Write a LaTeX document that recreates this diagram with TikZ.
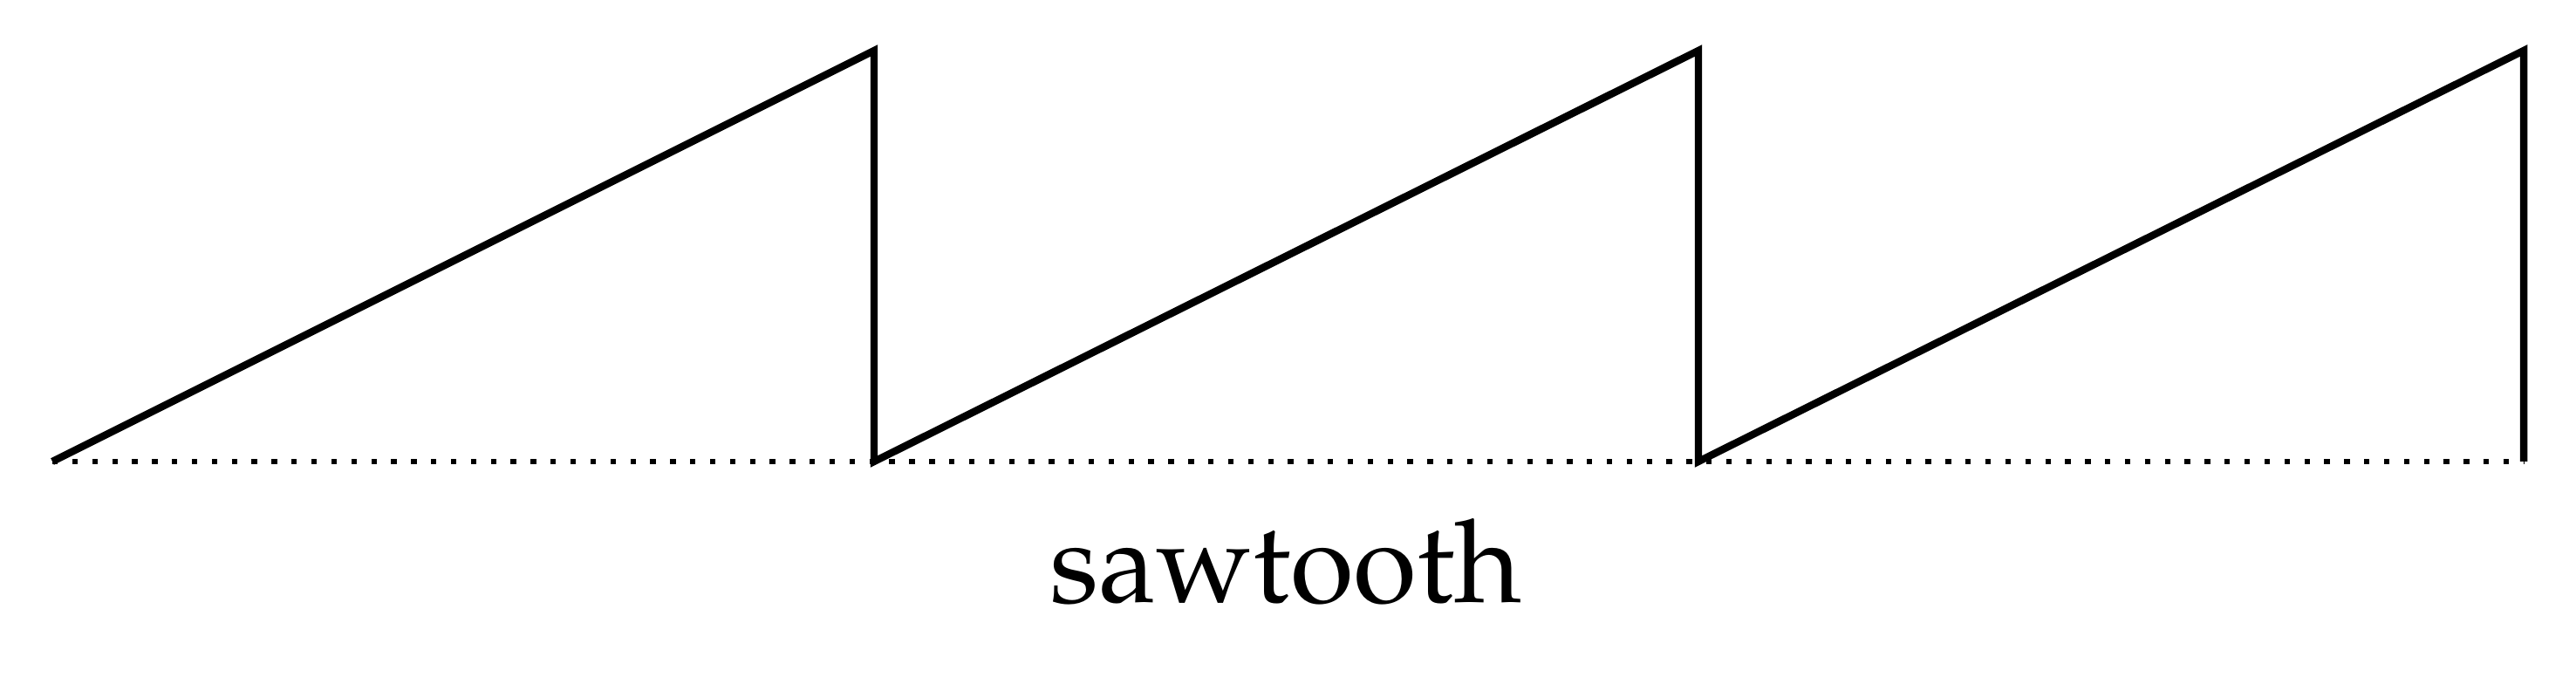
\documentclass[tikz,border=0pt]{standalone}
\usepackage[T1]{fontenc}
\usepackage{mathpazo}
\begin{document}
\begin{tikzpicture}[
  saw/.style={line width=2.4pt, line join=miter},
  base/.style={line width=1.8pt, dash pattern=on 1.8pt off 4.7pt},
  lbl/.style={anchor=base, inner sep=0pt, font=\fontsize{37.7}{45}\selectfont}
]
\useasboundingbox (0,0) rectangle (29.53,8);
\coordinate (s0) at (0.60,2.71);
\coordinate (p1) at (10.02,7.42);
\coordinate (b1) at (10.02,2.71);
\coordinate (p2) at (19.47,7.42);
\coordinate (b2) at (19.47,2.71);
\coordinate (p3) at (28.93,7.42);
\coordinate (b3) at (28.93,2.71);
\draw[base] (s0) -- (b3);
\draw[saw] (s0) -- (p1) -- (b1) -- (p2) -- (b2) -- (p3) -- (b3);
\node[lbl] (t) at (14.74,1.09) {sawtooth};
\end{tikzpicture}
\end{document}
